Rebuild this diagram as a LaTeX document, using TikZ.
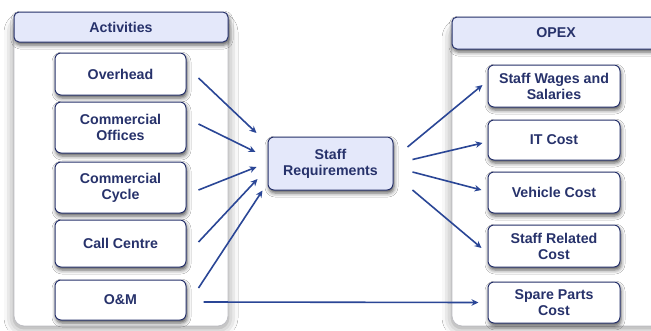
\documentclass[tikz,border=0pt]{standalone}
\usepackage{fontspec}
\setmainfont{Liberation Sans}
\usetikzlibrary{shadows.blur,arrows.meta}
\definecolor{navy}{HTML}{27326B}
\definecolor{hdrfill}{HTML}{E4E8FA}
\definecolor{arrblue}{HTML}{2A4696}
\definecolor{contline}{HTML}{BFBFC4}
\tikzset{
  box/.style={draw=navy, line width=1pt, fill=white, rounded corners=6pt,
    minimum width=131pt, inner sep=1pt, align=center,
    font=\bfseries\fontsize{14.2}{16}\selectfont, text=navy,
    blur shadow={shadow xshift=1pt, shadow yshift=-3pt, shadow blur radius=4pt, shadow opacity=65}},
  hdr/.style={box, fill=hdrfill, rounded corners=5pt},
  cont/.style={draw=contline, line width=0.8pt, fill=white, rounded corners=10pt, inner sep=0pt,
    blur shadow={shadow xshift=0pt, shadow yshift=-2pt, shadow blur radius=10pt, shadow opacity=45}},
  arr/.style={draw=arrblue, line width=1.6pt, -{Stealth[length=7pt,width=6.5pt]}}
}
\begin{document}
\begin{tikzpicture}[x=1pt,y=-1pt]
\clip (0,0) rectangle (651,330);
\fill[white] (0,0) rectangle (651,330);
% containers
\node[cont, minimum width=214pt, minimum height=306pt] (lcont) at (121,173) {};
\node[cont, minimum width=230pt, minimum height=300pt] (rcont) at (567,176) {};
% headers
\node[hdr, minimum width=214pt, minimum height=30pt] (acth) at (121,27) {Activities};
\node[hdr, minimum width=208pt, minimum height=32pt] (opexh) at (556,33) {OPEX};
% activities
\node[box, minimum height=42pt] (over) at (120.5,74) {Overhead};
\node[box, minimum height=51pt] (coff) at (120.5,127.5) {Commercial\\Offices};
\node[box, minimum height=51pt] (ccyc) at (120.5,187.5) {Commercial\\Cycle};
\node[box, minimum height=47pt] (call) at (120.5,243.5) {Call Centre};
\node[box, minimum height=40pt] (om) at (120.5,300) {O\&M};
% centre
\node[box, fill=hdrfill, minimum width=125pt, minimum height=53pt] (sr) at (330.5,163.5) {Staff\\Requirements};
% opex
\node[box, minimum width=132pt, minimum height=42pt] (wages) at (554,86) {Staff Wages and\\Salaries};
\node[box, minimum width=132pt, minimum height=40pt] (it) at (554,140) {IT Cost};
\node[box, minimum width=132pt, minimum height=41pt] (veh) at (554,192.5) {Vehicle Cost};
\node[box, minimum width=132pt, minimum height=42pt] (srel) at (554,246) {Staff Related\\Cost};
\node[box, minimum width=132pt, minimum height=41pt] (spare) at (554,302.5) {Spare Parts\\Cost};
% arrows in
\draw[arr] ([shift={(12,4)}]over.east) -- ([shift={(-11,-30.5)}]sr.west);
\draw[arr] ([shift={(12,-3.5)}]coff.east) -- ([shift={(-12,-11.5)}]sr.west);
\draw[arr] ([shift={(12,2.5)}]ccyc.east) -- ([shift={(-11,3.5)}]sr.west);
\draw[arr] ([shift={(12,-1.5)}]call.east) -- ([shift={(-10,15.5)}]sr.west);
\draw[arr] ([shift={(12,-12)}]om.east) -- ([shift={(-5,27)}]sr.west);
\draw[arr] ([shift={(17,2)}]om.east) -- ([shift={(-9,0)}]spare.west);
% arrows out
\draw[arr] ([shift={(14,-16.5)}]sr.east) -- ([shift={(-5,-1)}]wages.west);
\draw[arr] ([shift={(19,-4)}]sr.east) -- ([shift={(-5,3)}]it.west);
\draw[arr] ([shift={(19,8.5)}]sr.east) -- ([shift={(-6,-2.5)}]veh.west);
\draw[arr] ([shift={(19,26.5)}]sr.east) -- ([shift={(-6,2)}]srel.west);
\end{tikzpicture}
\end{document}
